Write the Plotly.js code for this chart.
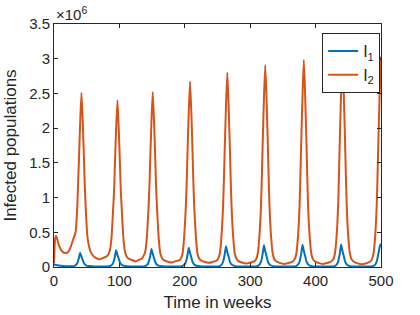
<!DOCTYPE html>
<html>
<head>
<meta charset="utf-8">
<script src="https://cdn.plot.ly/plotly-3.0.1.min.js"></script>
<style>html,body{margin:0;padding:0;background:#fff;}#chart{width:420px;height:315px;}</style>
</head>
<body>
<div id="chart"></div>
<script>
// Time (weeks) and infected populations (in units of 10^6)
const tI2 = [0,1,2,3,5,8,12,17,22,26,28,30.5,33,35.5,37,38,40,42,44,46,47,48.5,51,53.5,56,59,64,70,
  75,80,83,85.5,88,90.5,92,93,95,97,99,101,102,103.5,106,108.5,111,114,119,125,
  129,134,137,139.5,142,144.5,146,147,149,151,153,155,156,157.5,160,162.5,165,168,173,180,
  186,191,194,196.5,199,201.5,203,204,206,208,210,212,213,214.5,217,219.5,222,225,230,237,
  243,248,251,253.5,256,258.5,260,261,263,265,267,269,270,271.5,274,276.5,279,282,287,294,
  301,306,309,311.5,314,316.5,318,319,321,323,325,327,328,329.5,332,334.5,337,340,345,352,
  360,365,368,370.5,373,375.5,377,378,380,382,384,386,387,388.5,391,393.5,396,399,404,411,
  419,424,427,429.5,432,434.5,436,437,439,441,443,445,446,447.5,450,452.5,455,458,463,470,
  478,483,486,488.5,491,493.5,495,496,498,500];
const I2 = [0.05,0.3,0.42,0.45,0.4,0.3,0.23,0.2,0.22,0.3,0.36,0.43,0.5,0.85,1.25,1.5,2.08,2.51,2.08,1.5,1.18,0.85,0.45,0.3,0.22,0.17,0.13,0.11,
  0.13,0.15,0.18,0.24,0.43,0.85,1.13,1.44,1.99,2.40,1.99,1.44,1.13,0.85,0.43,0.22,0.15,0.12,0.1,0.08,
  0.1,0.12,0.16,0.22,0.43,0.85,1.18,1.51,2.09,2.52,2.09,1.51,1.18,0.85,0.43,0.2,0.13,0.1,0.08,0.065,
  0.085,0.094,0.12,0.19,0.43,0.85,1.25,1.6,2.22,2.67,2.22,1.6,1.25,0.85,0.43,0.19,0.12,0.094,0.075,0.06,
  0.075,0.09,0.12,0.19,0.43,0.87,1.32,1.68,2.32,2.80,2.32,1.68,1.32,0.87,0.43,0.19,0.12,0.085,0.065,0.05,
  0.065,0.08,0.11,0.19,0.43,0.88,1.37,1.75,2.42,2.91,2.42,1.75,1.37,0.88,0.43,0.19,0.11,0.08,0.06,0.045,
  0.06,0.08,0.11,0.19,0.43,0.88,1.4,1.79,2.47,2.98,2.47,1.79,1.4,0.88,0.43,0.19,0.11,0.08,0.06,0.045,
  0.06,0.08,0.11,0.19,0.43,0.9,1.43,1.82,2.52,3.04,2.52,1.82,1.43,0.9,0.43,0.19,0.11,0.08,0.055,0.04,
  0.055,0.075,0.11,0.19,0.43,0.9,1.43,1.82,2.52,3.03];

const tI1 = [0,3,8,14,20,26,
  30,34,36,38,40,42,44,46,49,54,62,75,
  85,89,91,93,95,97,99,101,104,109,117,130,
  139,143,145,147,149,151,153,155,158,163,171,185,
  196,200,202,204,206,208,210,212,215,220,228,242,
  253,257,259,261,263,265,267,269,272,277,285,300,
  311,315,317,319,321,323,325,327,330,335,343,358,
  370,374,376,378,380,382,384,386,389,394,402,417,
  429,433,435,437,439,441,443,445,448,453,461,476,
  488,492,494,496,498,500];
const I1 = [0.035,0.03,0.02,0.014,0.012,0.012,
  0.013,0.033,0.065,0.125,0.205,0.15,0.1,0.052,0.025,0.013,0.009,0.008,
  0.012,0.035,0.072,0.145,0.24,0.175,0.12,0.06,0.027,0.013,0.009,0.008,
  0.012,0.038,0.078,0.156,0.26,0.19,0.13,0.065,0.028,0.013,0.008,0.007,
  0.011,0.04,0.083,0.166,0.277,0.2,0.138,0.069,0.03,0.013,0.008,0.007,
  0.011,0.043,0.09,0.18,0.30,0.216,0.15,0.075,0.032,0.013,0.007,0.006,
  0.011,0.045,0.095,0.19,0.315,0.227,0.157,0.079,0.033,0.013,0.007,0.006,
  0.011,0.046,0.096,0.192,0.32,0.23,0.16,0.08,0.034,0.013,0.007,0.006,
  0.011,0.047,0.098,0.195,0.325,0.234,0.162,0.081,0.034,0.013,0.007,0.006,
  0.011,0.047,0.098,0.19,0.29,0.335];

const xTicks = [0,100,200,300,400,500];
const yTicks = [0,0.5,1,1.5,2,2.5,3,3.5];
const yTickText = ['0','0.5','1','1.5','2','2.5','3','3.5'];

const FONT = '"Liberation Sans", Arial, Helvetica, sans-serif';
const TXT = '#262626';

const traces = [
  {x: tI1, y: I1, type: 'scatter', mode: 'lines', name: 'I<sub>1</sub>',
   line: {color: '#0072BD', width: 2, shape: 'spline', smoothing: 0.5}},
  {x: tI2, y: I2, type: 'scatter', mode: 'lines', name: 'I<sub>2</sub>',
   line: {color: '#D95319', width: 2, shape: 'spline', smoothing: 0.5}}
];

const axisCommon = {
  showline: true, linecolor: TXT, linewidth: 1, mirror: 'ticks',
  ticks: 'inside', ticklen: 4, tickcolor: TXT, tickwidth: 1,
  showgrid: false, zeroline: false,
  tickfont: {family: FONT, size: 15, color: TXT}
};

const layout = {
  width: 420, height: 315,
  margin: {l: 54, r: 39, t: 24, b: 48},
  paper_bgcolor: '#fff', plot_bgcolor: '#fff',
  font: {family: FONT, color: TXT},
  showlegend: true,
  legend: {x: 0.82, y: 0.963, xanchor: 'left', yanchor: 'top',
    bgcolor: '#fff', bordercolor: TXT, borderwidth: 1,
    font: {family: FONT, size: 16, color: TXT}, itemwidth: 30, tracegroupgap: 0},
  xaxis: Object.assign({}, axisCommon, {
    range: [0, 500], tickmode: 'array', tickvals: xTicks,
    title: {text: 'Time in weeks', font: {family: FONT, size: 17, color: TXT}, standoff: 8}
  }),
  yaxis: Object.assign({}, axisCommon, {
    range: [0, 3.5], tickmode: 'array', tickvals: yTicks, ticktext: yTickText,
    title: {text: 'Infected populations', font: {family: FONT, size: 17, color: TXT}, standoff: 8}
  }),
  annotations: [{
    xref: 'paper', yref: 'paper', x: 0, y: 1, xanchor: 'left', yanchor: 'bottom',
    text: '×10<sup>6</sup>', showarrow: false, xshift: 0, yshift: -1,
    font: {family: FONT, size: 15, color: TXT}
  }]
};

Plotly.newPlot('chart', traces, layout, {staticPlot: true, displayModeBar: false});
</script>
</body>
</html>
